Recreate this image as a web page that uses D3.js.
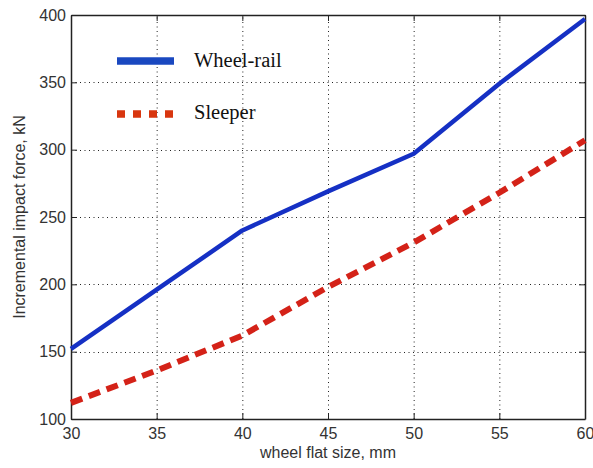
<!DOCTYPE html>
<html>
<head>
<meta charset="utf-8">
<script src="https://cdn.jsdelivr.net/npm/d3@7/dist/d3.min.js"></script>
<style>
  html, body { margin: 0; padding: 0; background: #fff; }
  svg { display: block; }
</style>
</head>
<body>
<script>
// Wheel flat sizes (mm) and incremental impact forces (kN)
const flatSizes = [30, 35, 40, 45, 50, 55, 60];
const wheelRail = [152, 196, 240, 269, 297, 349, 397];
const sleeper   = [112, 136, 162, 198, 231, 268, 307];
const seriesNames = ["Wheel-rail", "Sleeper"];
const xTicks = [30, 35, 40, 45, 50, 55, 60];
const yTicks = [100, 150, 200, 250, 300, 350, 400];

(function draw() {
  const W = 593, H = 468;
  const margin = { left: 71, right: 8, top: 15, bottom: 49 };

  const svg = d3.select("body").append("svg").attr("width", W).attr("height", H);

  const x = d3.scaleLinear().domain([30, 60]).range([margin.left, W - margin.right]);
  const y = d3.scaleLinear().domain([100, 400]).range([H - margin.bottom, margin.top]);

  const x0 = x.range()[0], x1 = x.range()[1];
  const y0 = y.range()[0], y1 = y.range()[1];

  // dotted grid
  const grid = svg.append("g").attr("stroke", "#222").attr("stroke-width", 1)
    .attr("stroke-dasharray", "1,3.5");
  grid.selectAll("line.v").data(xTicks.slice(1, -1)).join("line").attr("class", "v")
    .attr("x1", d => x(d) + 0.5).attr("x2", d => x(d) + 0.5)
    .attr("y1", y0).attr("y2", y1);
  grid.selectAll("line.h").data(yTicks.slice(1, -1)).join("line").attr("class", "h")
    .attr("y1", d => Math.round(y(d)) + 0.5).attr("y2", d => Math.round(y(d)) + 0.5)
    .attr("x1", x0).attr("x2", x1);

  // axes (ticks point inward, mirrored on top/right)
  const tickFont = "Arial, 'Liberation Sans', sans-serif";
  const axisB = svg.append("g").attr("transform", `translate(0,${y0})`)
    .call(d3.axisBottom(x).tickValues(xTicks).tickSizeInner(-6).tickSizeOuter(0).tickPadding(9));
  const axisL = svg.append("g").attr("transform", `translate(${x0},0)`)
    .call(d3.axisLeft(y).tickValues(yTicks).tickSizeInner(-6).tickSizeOuter(0).tickPadding(5));
  const axisT = svg.append("g").attr("transform", `translate(0,${y1})`)
    .call(d3.axisTop(x).tickValues(xTicks).tickSizeInner(-6).tickSizeOuter(0).tickFormat(""));
  const axisR = svg.append("g").attr("transform", `translate(${x1},0)`)
    .call(d3.axisRight(y).tickValues(yTicks).tickSizeInner(-6).tickSizeOuter(0).tickFormat(""));
  [axisB, axisL, axisT, axisR].forEach(g => {
    g.select(".domain").attr("stroke", "#222").attr("stroke-width", 1.5);
    g.selectAll(".tick line").attr("stroke", "#222");
    g.selectAll("text").attr("font-family", tickFont).attr("font-size", 16).attr("fill", "#333");
  });

  // series lines
  const line = d3.line().x((d, i) => x(flatSizes[i])).y(d => y(d));
  svg.append("path").datum(wheelRail)
    .attr("d", line).attr("fill", "none")
    .attr("stroke", "#1530c4").attr("stroke-width", 4.5).attr("stroke-linejoin", "round");
  svg.append("path").datum(sleeper)
    .attr("d", line).attr("fill", "none")
    .attr("stroke", "#d42218").attr("stroke-width", 6).attr("stroke-dasharray", "12,7");

  // legend
  const legend = svg.append("g");
  const legendColors = ["#1a48c0", "#d8360f"];
  seriesNames.forEach((name, i) => {
    const ly = 61 + i * 52;
    const l = legend.append("line")
      .attr("x1", 117).attr("x2", 174).attr("y1", ly).attr("y2", ly)
      .attr("stroke", legendColors[i]).attr("stroke-width", 7.5);
    if (i === 1) l.attr("y1", ly + 1).attr("y2", ly + 1).attr("stroke-dasharray", "8,8").attr("x2", 173);
    legend.append("text").attr("x", 194).attr("y", ly + 6)
      .attr("font-family", "'Liberation Serif', 'Times New Roman', serif")
      .attr("font-size", 20.5).attr("fill", "#111").text(name);
  });

  // axis titles
  svg.append("text").attr("x", (x0 + x1) / 2).attr("y", 458)
    .attr("text-anchor", "middle").attr("font-family", tickFont)
    .attr("font-size", 16).attr("fill", "#333").text("wheel flat size, mm");
  svg.append("text").attr("transform", `translate(25,${(y0 + y1) / 2}) rotate(-90)`)
    .attr("text-anchor", "middle").attr("font-family", tickFont)
    .attr("font-size", 16).attr("fill", "#333").text("Incremental impact force, kN");
})();
</script>
</body>
</html>
